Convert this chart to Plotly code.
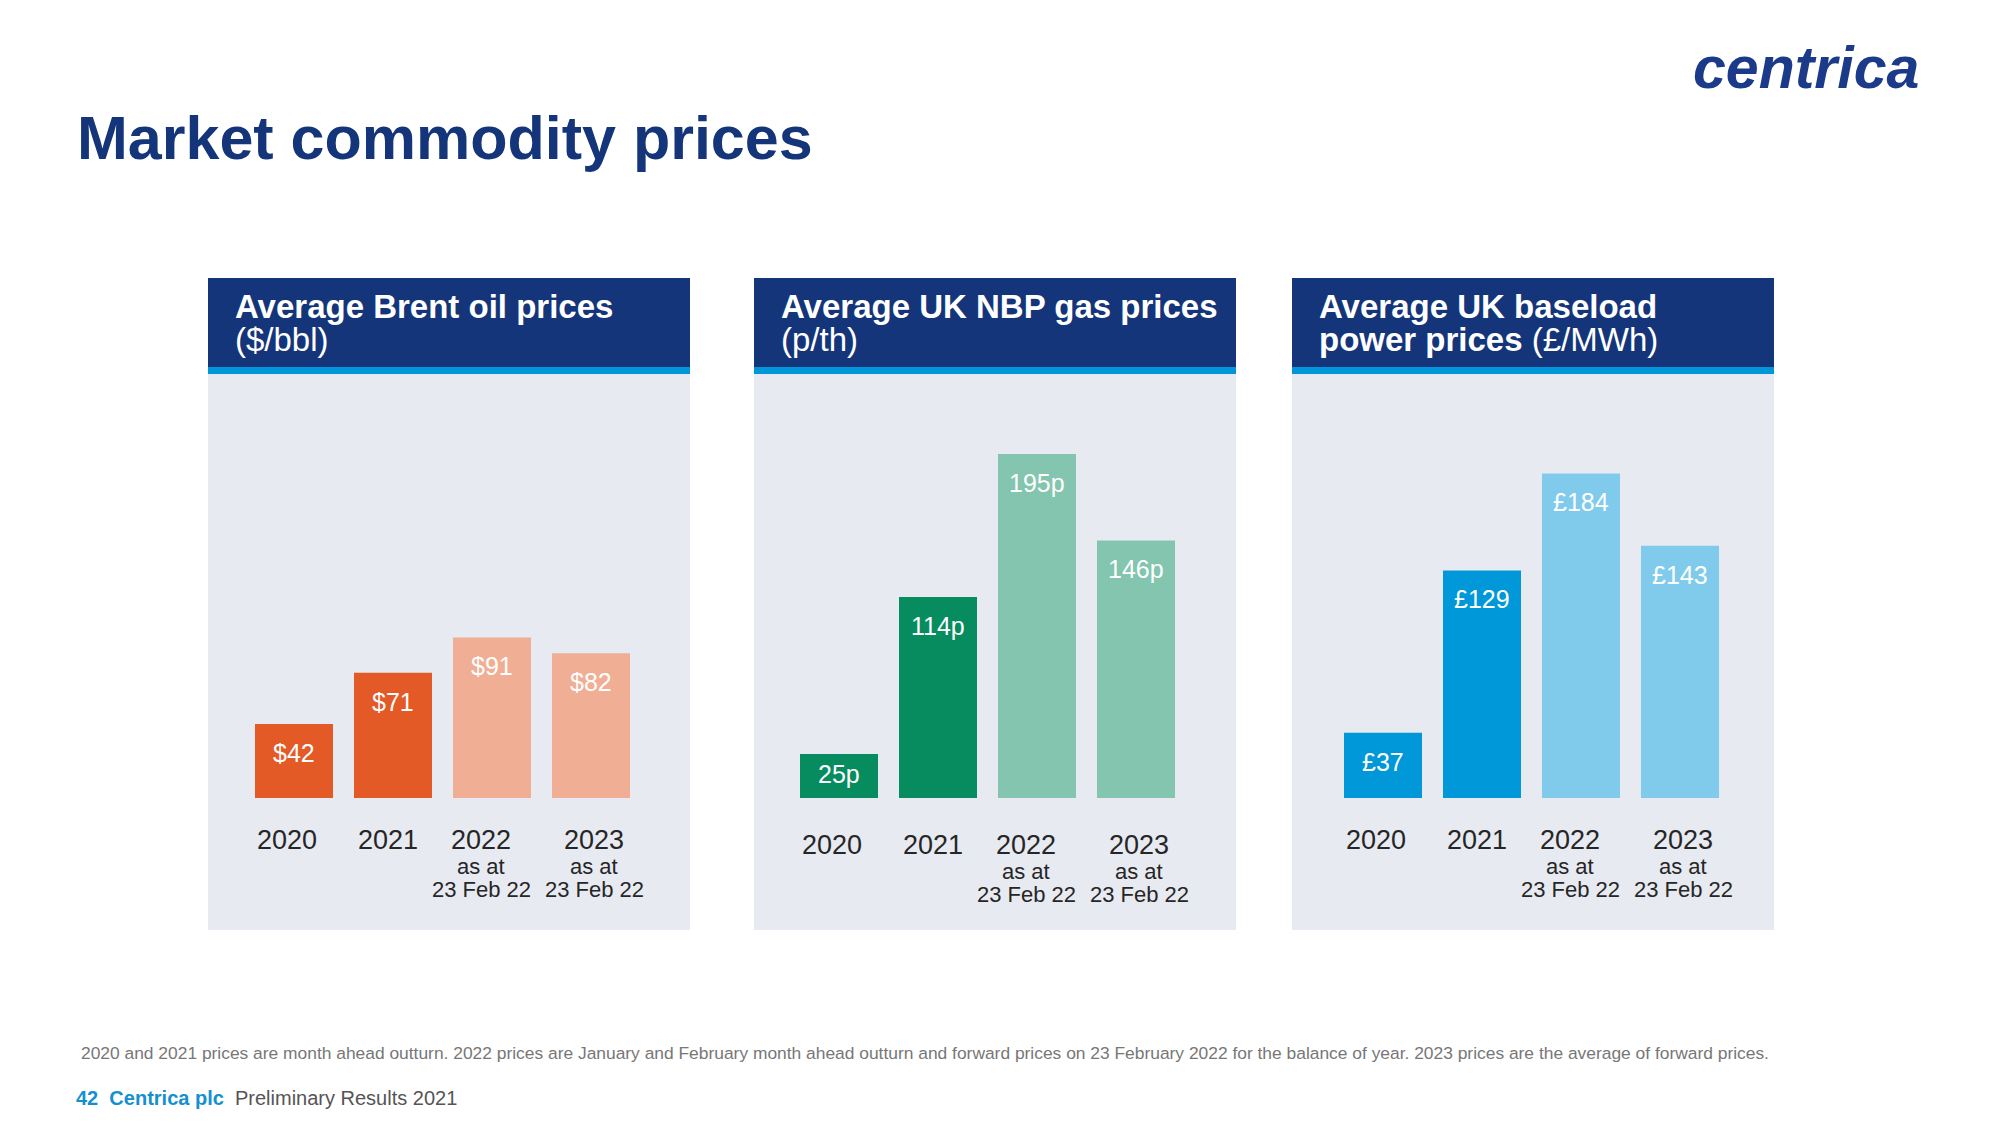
import plotly.graph_objects as go

# ---------------- data ----------------
categories = ["2020", "2021", "2022", "2023"]
sub_line1 = ["", "", "as at", "as at"]
sub_line2 = ["", "", "23 Feb 22", "23 Feb 22"]

oil_prices = [42, 71, 91, 82]          # $/bbl
gas_prices = [25, 114, 195, 146]       # p/th
power_prices = [37, 129, 184, 143]     # £/MWh

oil_fmt = ("$", "")
gas_fmt = ("", "p")
power_fmt = ("£", "")

panel_titles_bold = ["Average Brent oil prices", "Average UK NBP gas prices", "Average UK baseload"]
panel_titles_line2_bold = ["", "", "power prices "]
panel_titles_line2_reg = ["($/bbl)", "(p/th)", "(£/MWh)"]

title = "Market commodity prices"
footnote = ("2020 and 2021 prices are month ahead outturn. 2022 prices are January and February month ahead "
            "outturn and forward prices on 23 February 2022 for the balance of year. 2023 prices are the "
            "average of forward prices.")

# ---------------- style ----------------
W, H = 2000, 1125
FONT = "Liberation Sans, Arial, Helvetica, sans-serif"
NAVY = "#15357a"
STRIP = "#0096d9"
PANEL_BG = "#e8eaf1"
TEXT_DARK = "#262626"

dark_colors = ["#e35a27", "#078c5f", "#0098d8"]
light_colors = ["#f0ae94", "#83c5ae", "#80cbeb"]

def px(x):
    return x / W

def py(y):
    return 1 - y / H

panels = [
    dict(left=208, offset=86, label_y=840),
    dict(left=754, offset=85, label_y=845),
    dict(left=1292, offset=91, label_y=840),
]
PANEL_W = 482
PANEL_TOP, HEADER_BOTTOM, STRIP_BOTTOM, PANEL_BOTTOM = 278, 367, 374, 930
PITCH = 99
BAR_W = 78
ZERO_Y = 798
TOP_Y = 420
PX_PER_UNIT = 1.764
YMAX = (ZERO_Y - TOP_Y) / PX_PER_UNIT
label_xshift = [-7, -5, -11, 3]

series = [(oil_prices, oil_fmt), (gas_prices, gas_fmt), (power_prices, power_fmt)]

fig = go.Figure()
shapes = []
annotations = []
layout_axes = {}

for k, (p, (vals, fmt)) in enumerate(zip(panels, series)):
    axn = "" if k == 0 else str(k + 1)
    xa, ya = "x" + axn, "y" + axn
    left = p["left"]
    # panel background & header
    shapes.append(dict(type="rect", xref="paper", yref="paper", layer="below",
                       x0=px(left), x1=px(left + PANEL_W), y0=py(PANEL_BOTTOM), y1=py(PANEL_TOP),
                       fillcolor=PANEL_BG, line=dict(width=0)))
    shapes.append(dict(type="rect", xref="paper", yref="paper", layer="below",
                       x0=px(left), x1=px(left + PANEL_W), y0=py(HEADER_BOTTOM), y1=py(PANEL_TOP),
                       fillcolor=NAVY, line=dict(width=0)))
    shapes.append(dict(type="rect", xref="paper", yref="paper", layer="below",
                       x0=px(left), x1=px(left + PANEL_W), y0=py(STRIP_BOTTOM), y1=py(HEADER_BOTTOM),
                       fillcolor=STRIP, line=dict(width=0)))
    # header text
    annotations.append(dict(xref="paper", yref="paper", x=px(left + 25), y=py(306),
                            xanchor="left", yanchor="middle", showarrow=False,
                            text="<b>" + panel_titles_bold[k] + "</b>",
                            font=dict(family=FONT, size=33, color="white")))
    line2 = ""
    if panel_titles_line2_bold[k]:
        line2 += "<b>" + panel_titles_line2_bold[k] + "</b>"
    line2 += panel_titles_line2_reg[k]
    annotations.append(dict(xref="paper", yref="paper", x=px(left + 25), y=py(339),
                            xanchor="left", yanchor="middle", showarrow=False,
                            text=line2, font=dict(family=FONT, size=33, color="white")))

    colors = [dark_colors[k], dark_colors[k], light_colors[k], light_colors[k]]
    fig.add_trace(go.Bar(x=categories, y=vals, marker=dict(color=colors, line=dict(width=0)),
                         width=BAR_W / PITCH, xaxis=xa, yaxis=ya, hoverinfo="skip",
                         showlegend=False))

    x0 = left + p["offset"] - PITCH / 2
    layout_axes["xaxis" + axn] = dict(domain=[px(x0), px(x0 + 4 * PITCH)], range=[-0.5, 3.5],
                                      type="category", showticklabels=False, showgrid=False,
                                      zeroline=False, showline=False, fixedrange=True,
                                      anchor=ya)
    layout_axes["yaxis" + axn] = dict(domain=[py(ZERO_Y), py(TOP_Y)], range=[0, YMAX],
                                      showticklabels=False, showgrid=False, zeroline=False,
                                      showline=False, fixedrange=True, anchor=xa)

    for i, v in enumerate(vals):
        shift = -min(29, v * PX_PER_UNIT / 2 - 2)
        annotations.append(dict(xref=xa, yref=ya, x=i, y=v, yshift=shift, showarrow=False,
                                xanchor="center", yanchor="middle",
                                text=f"{fmt[0]}{v}{fmt[1]}",
                                font=dict(family=FONT, size=25, color="white")))
        annotations.append(dict(xref=xa, yref="paper", x=i, y=py(p["label_y"]),
                                xshift=label_xshift[i], showarrow=False,
                                xanchor="center", yanchor="middle", text=categories[i],
                                font=dict(family=FONT, size=27, color=TEXT_DARK)))
        if sub_line1[i]:
            annotations.append(dict(xref=xa, yref="paper", x=i, y=py(p["label_y"] + 26),
                                    xshift=label_xshift[i], showarrow=False,
                                    xanchor="center", yanchor="middle", text=sub_line1[i],
                                    font=dict(family=FONT, size=22, color=TEXT_DARK)))
            annotations.append(dict(xref=xa, yref="paper", x=i, y=py(p["label_y"] + 49),
                                    xshift=label_xshift[i], showarrow=False,
                                    xanchor="center", yanchor="middle", text=sub_line2[i],
                                    font=dict(family=FONT, size=22, color=TEXT_DARK)))

# title, logo, footnote, footer
annotations.append(dict(xref="paper", yref="paper", x=px(75), y=py(138), xanchor="left",
                        yanchor="middle", showarrow=False, text="<b>" + title + "</b>",
                        font=dict(family=FONT, size=61, color=NAVY)))
annotations.append(dict(xref="paper", yref="paper", x=px(1921), y=py(68), xanchor="right",
                        yanchor="middle", showarrow=False, text="<b><i>centrica</i></b>",
                        font=dict(family=FONT, size=59, color="#1b3a8a")))
annotations.append(dict(xref="paper", yref="paper", x=px(79), y=py(1053), xanchor="left",
                        yanchor="middle", showarrow=False, text=footnote,
                        font=dict(family=FONT, size=17.4, color="#777777")))
annotations.append(dict(xref="paper", yref="paper", x=px(74), y=py(1098), xanchor="left",
                        yanchor="middle", showarrow=False,
                        text="<b><span style='color:#1590cf'>42  Centrica plc</span></b>  Preliminary Results 2021",
                        font=dict(family=FONT, size=20, color="#555555")))

fig.update_layout(width=W, height=H, margin=dict(l=0, r=0, t=0, b=0),
                  paper_bgcolor="white", plot_bgcolor="rgba(0,0,0,0)",
                  shapes=shapes, annotations=annotations, barmode="group",
                  **layout_axes)

fig.write_html("out.html", config={"displayModeBar": False},
               post_script="document.body.style.margin='0px';document.body.style.overflow='hidden';")
